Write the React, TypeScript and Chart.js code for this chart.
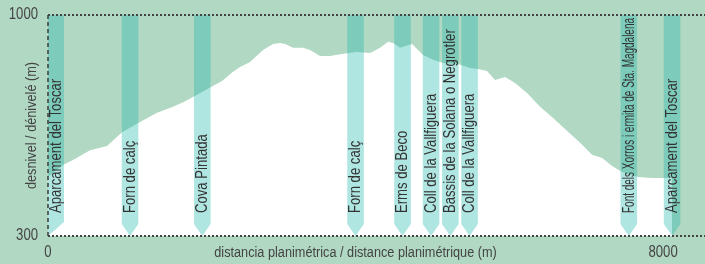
import React, { useEffect, useRef } from "react";
import { Chart, registerables } from "chart.js";

Chart.register(...registerables);

const profileDistances = [0, 195, 325, 546, 767, 963, 1197, 1418, 1626, 1756, 1886, 2120, 2263, 2407, 2498, 2628, 2797, 2927, 3018, 3083, 3187, 3317, 3408, 3538, 3668, 3837, 4020, 4189, 4319, 4423, 4488, 4579, 4735, 4878, 5008, 5138, 5333, 5489, 5593, 5711, 5815, 5945, 6075, 6231, 6400, 6569, 6725, 6920, 7076, 7207, 7337, 7467, 7675, 7857, 8026, 8117];
const profileElevations = [487, 525, 541, 572, 585, 629, 661, 690, 709, 724, 740, 772, 791, 820, 835, 851, 889, 908, 911, 908, 896, 896, 889, 870, 870, 877, 883, 880, 896, 915, 911, 896, 908, 873, 858, 848, 845, 832, 829, 823, 794, 804, 785, 753, 709, 674, 639, 595, 557, 547, 522, 503, 487, 484, 484, 484];

const markerDistances = [0, 1067, 2007, 4000, 4611, 4982, 5233, 5483, 7554, 8117];
const markerLabels = [
  "Aparcament del Toscar",
  "Forn de calç",
  "Cova Pintada",
  "Forn de calç",
  "Erms de Beco",
  "Coll de la Vallfiguera",
  "Bassis de la Solana o Negrotler",
  "Coll de la Vallfiguera",
  "Font dels Xorros i ermita de Sta. Magdalena",
  "Aparcament del Toscar",
];

const xTicks = [0, 8000];
const yTicks = [300, 1000];
const xTitle = "distancia planimétrica / distance planimétrique (m)";
const xTitleAt = 4000;
const yTitle = "desnivel / dénivelé (m)";

const FONT = '"Liberation Sans", Arial, sans-serif';
const NARROW = 0.82;
const BG = "#b1d8c3";

function narrowText(
  ctx: CanvasRenderingContext2D,
  text: string,
  x: number,
  y: number,
  angle: number,
  align: CanvasTextAlign,
  maxWidth?: number
) {
  ctx.save();
  ctx.translate(x, y);
  ctx.rotate(angle);
  ctx.scale(NARROW, 1);
  ctx.textAlign = align;
  if (maxWidth !== undefined) ctx.fillText(text, 0, 0, maxWidth / NARROW);
  else ctx.fillText(text, 0, 0);
  ctx.restore();
}

export default function App() {
  const ref = useRef<HTMLCanvasElement | null>(null);
  useEffect(() => {
    const canvas = ref.current;
    if (!canvas) return;

    const bgPlugin = {
      id: "bg",
      beforeDraw(chart: any) {
        const ctx = chart.ctx;
        ctx.save();
        ctx.fillStyle = BG;
        ctx.fillRect(0, 0, chart.width, chart.height);
        ctx.restore();
      },
    };

    const overlayPlugin = {
      id: "overlay",
      afterDatasetsDraw(chart: any) {
        const ctx = chart.ctx as CanvasRenderingContext2D;
        const { left, right, top, bottom } = chart.chartArea;
        const xs = chart.scales.x;
        const ys = chart.scales.y;
        // markers
        ctx.save();
        ctx.beginPath();
        ctx.rect(left, top, right - left, bottom - top);
        ctx.clip();
        ctx.fillStyle = "rgba(29,183,172,0.35)";
        markerDistances.forEach((d, i) => {
          const cx = xs.getPixelForValue(d);
          const hw = i === 0 ? 16 : 8.3;
          const ah = i === 0 ? 14 : 12;
          ctx.beginPath();
          ctx.moveTo(cx - hw, top);
          ctx.lineTo(cx + hw, top);
          ctx.lineTo(cx + hw, bottom - ah);
          ctx.lineTo(cx, bottom);
          ctx.lineTo(cx - hw, bottom - ah);
          ctx.closePath();
          ctx.fill();
        });
        ctx.restore();

        // marker labels
        ctx.save();
        ctx.fillStyle = "#333";
        ctx.font = `16px ${FONT}`;
        ctx.textBaseline = "middle";
        markerDistances.forEach((d, i) => {
          const cx = xs.getPixelForValue(d);
          const hw = i === 0 ? 16 : 8.3;
          const vx = (Math.max(left, cx - hw) + Math.min(right, cx + hw)) / 2;
          narrowText(ctx, markerLabels[i], vx + 0.5, bottom - 23, -Math.PI / 2, "left", 195);
        });
        ctx.restore();

        // frame lines
        ctx.save();
        ctx.strokeStyle = "#444";
        ctx.lineWidth = 2;
        ctx.setLineDash([2, 2]);
        yTicks.forEach((v) => {
          const y = Math.round(ys.getPixelForValue(v));
          ctx.beginPath();
          ctx.moveTo(left, y);
          ctx.lineTo(right, y);
          ctx.stroke();
        });
        ctx.setLineDash([4, 3]);
        ctx.lineWidth = 1.6;
        ctx.beginPath();
        ctx.moveTo(left, top);
        ctx.lineTo(left, bottom);
        ctx.stroke();
        ctx.restore();

        // tick labels & titles
        ctx.save();
        ctx.fillStyle = "#444";
        ctx.font = `16px ${FONT}`;
        ctx.textBaseline = "middle";
        yTicks.forEach((v) => {
          narrowText(ctx, String(v), left - 10, ys.getPixelForValue(v), 0, "right");
        });
        const ty = bottom + 17;
        xTicks.forEach((v) => {
          narrowText(ctx, String(v), xs.getPixelForValue(v), ty, 0, "center");
        });
        ctx.font = `15.5px ${FONT}`;
        narrowText(ctx, xTitle, xs.getPixelForValue(xTitleAt), ty, 0, "center");
        narrowText(ctx, yTitle, 32, (top + bottom) / 2, -Math.PI / 2, "center");
        ctx.restore();
      },
    };

    const chart = new Chart(canvas, {
      type: "line",
      data: {
        datasets: [
          {
            data: profileDistances.map((d, i) => ({ x: d, y: profileElevations[i] })),
            fill: "start",
            backgroundColor: "#ffffff",
            borderWidth: 0,
            borderColor: "rgba(0,0,0,0)",
            pointRadius: 0,
            tension: 0,
          },
        ],
      },
      options: {
        animation: false,
        responsive: false,
        devicePixelRatio: 1,
        layout: { padding: { left: 48, top: 15, right: 0, bottom: 28 } },
        plugins: { legend: { display: false }, tooltip: { enabled: false } },
        scales: {
          x: { type: "linear", min: 0, max: 8545, display: false },
          y: { type: "linear", min: 300, max: 1000, display: false },
        },
      },
      plugins: [bgPlugin, overlayPlugin],
    });
    return () => chart.destroy();
  }, []);

  return (
    <div style={{ position: "fixed", left: 0, top: 0, width: 705, height: 264, background: BG }}>
      <canvas ref={ref} width={705} height={264} style={{ display: "block", width: 705, height: 264 }} />
    </div>
  );
}
